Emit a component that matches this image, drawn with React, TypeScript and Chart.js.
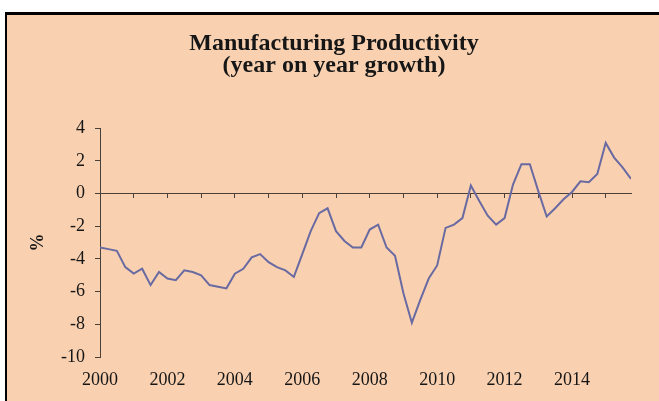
import React, { useEffect, useRef } from "react";
import { Chart, registerables } from "chart.js";

Chart.register(...registerables);

// ---- data ----
const titleLines = ["Manufacturing Productivity", "(year on year growth)"];
const yAxisTitle = "%";
const startYear = 2000; // first quarter of the series (2000 Q1)
const growth = [
  -3.3, -3.4, -3.5, -4.5, -4.9, -4.6, -5.6, -4.8,
  -5.2, -5.3, -4.7, -4.8, -5.0, -5.6, -5.7, -5.8,
  -4.9, -4.6, -3.9, -3.7, -4.2, -4.5, -4.7, -5.1,
  -3.7, -2.3, -1.2, -0.9, -2.3, -2.9, -3.3, -3.3,
  -2.2, -1.9, -3.3, -3.8, -6.1, -7.9, -6.5, -5.2,
  -4.4, -2.1, -1.9, -1.5, 0.5, -0.45, -1.35, -1.9,
  -1.5, 0.55, 1.8, 1.8, 0.15, -1.4, -0.9, -0.35,
  0.1, 0.75, 0.7, 1.2, 3.1, 2.2, 1.6, 0.9,
];
const yMin = -10;
const yMax = 4;
const yStep = 2;
const yearTickStep = 1;
const yearLabelStep = 2;

const FONT = "'Liberation Serif', 'Times New Roman', serif";
const PEACH = "rgb(249,209,177)";
const AXIS = "#4a4038";
const TEXT = "#161616";
const LINE = "#6a6aa2";

export default function App() {
  const ref = useRef<HTMLCanvasElement | null>(null);

  useEffect(() => {
    if (!ref.current) return;
    const points = growth.map((v, i) => ({ x: startYear + i / 4, y: v }));
    const xMax = startYear + (growth.length - 1) / 4;

    const chart = new Chart(ref.current, {
      type: "line",
      data: {
        datasets: [
          {
            data: points,
            borderColor: LINE,
            borderWidth: 2,
            pointRadius: 0,
            tension: 0,
            fill: false,
            xAxisID: "x",
            yAxisID: "y",
          },
        ],
      },
      options: {
        responsive: false,
        animation: false,
        layout: { padding: { left: 9, right: 0, top: 0, bottom: 0 } },
        plugins: {
          legend: { display: false },
          tooltip: { enabled: false },
          title: {
            display: true,
            text: titleLines,
            color: TEXT,
            font: { family: FONT, size: 24, weight: "bold", lineHeight: 0.9 },
            padding: { top: 33, bottom: 52 },
          },
        },
        scales: {
          x: {
            type: "linear",
            min: startYear,
            max: xMax,
            position: { y: 0 } as any,
            ticks: { display: false, stepSize: yearTickStep, includeBounds: false },
            grid: { drawOnChartArea: false, drawTicks: true, tickLength: 4, color: AXIS, lineWidth: 1 },
            border: { display: true, color: AXIS, width: 1 },
          },
          x2: {
            type: "linear",
            axis: "x",
            position: "bottom",
            min: startYear,
            max: xMax,
            grid: { display: false, drawTicks: false },
            border: { display: false },
            ticks: {
              stepSize: yearLabelStep,
              includeBounds: false,
              autoSkip: false,
              maxRotation: 0,
              padding: 12,
              color: TEXT,
              font: { family: FONT, size: 18 },
              callback: (v: any) => String(v),
            },
            afterFit: (s: any) => {
              s.height = 44;
            },
          },
          y: {
            type: "linear",
            position: "left",
            min: yMin,
            max: yMax,
            ticks: {
              stepSize: yStep,
              padding: 10,
              color: TEXT,
              font: { family: FONT, size: 18 },
              callback: (v: any) => String(v),
            },
            grid: { drawOnChartArea: false, drawTicks: true, tickLength: 5, color: AXIS },
            border: { display: true, color: AXIS, width: 1 },
            title: {
              display: true,
              text: yAxisTitle,
              color: TEXT,
              font: { family: FONT, size: 18, weight: "bold" },
              padding: { top: 19, bottom: 0 },
            },
            afterFit: (s: any) => {
              s.width = 91;
            },
          },
          yPad: {
            type: "linear",
            position: "right",
            grid: { display: false, drawTicks: false },
            border: { display: false },
            ticks: { display: false },
            afterFit: (s: any) => {
              s.width = 28;
            },
          },
        },
      },
    });
    return () => chart.destroy();
  }, []);

  return (
    <div
      style={{
        position: "absolute",
        left: 0,
        top: 0,
        width: 659,
        height: 401,
        overflow: "hidden",
        background: "#fff",
      }}
    >
      <div
        style={{
          position: "absolute",
          left: 5,
          top: 12,
          right: 0,
          bottom: 0,
          borderLeft: "2px solid #000",
          borderTop: "3px solid #000",
          background: PEACH,
        }}
      />
      <canvas
        ref={ref}
        width={659}
        height={401}
        style={{ position: "absolute", left: 0, top: 0 }}
      />
    </div>
  );
}
